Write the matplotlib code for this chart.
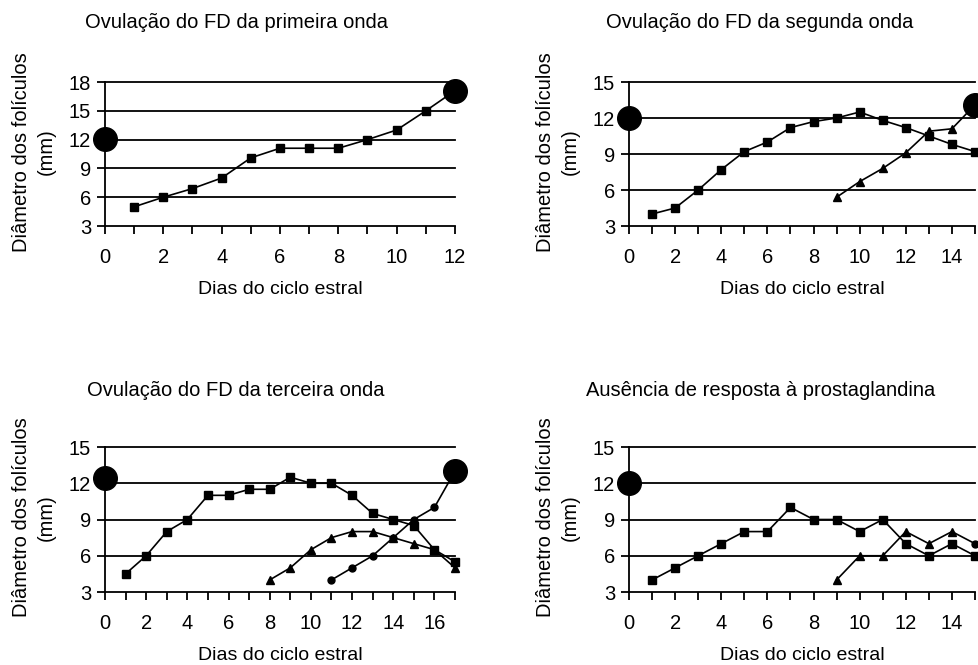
import matplotlib.pyplot as plt
from matplotlib.transforms import Bbox

plt.rcParams['font.family'] = ['Liberation Sans', 'DejaVu Sans']

titles = ["Ovulação do FD da primeira onda", "Ovulação do FD da segunda onda",
          "Ovulação do FD da terceira onda", "Ausência de resposta à prostaglandina"]
xlabel = "Dias do ciclo estral"
ylabel = "Diâmetro dos folículos\n(mm)"

# painel 1
p1_sq_x = [1, 2, 3, 4, 5, 6, 7, 8, 9, 10, 11, 12]
p1_sq_y = [5, 6, 6.9, 8, 10.1, 11.1, 11.1, 11.1, 12, 13, 15, 17.1]
p1_big_x = [0, 12]
p1_big_y = [12.1, 17.1]

# painel 2
p2_sq_x = list(range(1, 16))
p2_sq_y = [4, 4.5, 6, 7.7, 9.2, 10, 11.2, 11.7, 12, 12.5, 11.8, 11.2, 10.5, 9.8, 9.2]
p2_tri_x = [9, 10, 11, 12, 13, 14, 15]
p2_tri_y = [5.4, 6.7, 7.8, 9.1, 10.9, 11.1, 13.1]
p2_big_x = [0, 15]
p2_big_y = [12, 13.1]

# painel 3
p3_sq_x = list(range(1, 18))
p3_sq_y = [4.5, 6, 8, 9, 11, 11, 11.5, 11.5, 12.5, 12, 12, 11, 9.5, 9, 8.5, 6.5, 5.5]
p3_tri_x = list(range(8, 18))
p3_tri_y = [4, 5, 6.5, 7.5, 8, 8, 7.5, 7, 6.5, 5]
p3_dot_x = [11, 12, 13, 14, 15, 16, 17]
p3_dot_y = [4, 5, 6, 7.5, 9, 10, 13]
p3_big_x = [0, 17]
p3_big_y = [12.4, 13]

# painel 4
p4_sq_x = list(range(1, 16))
p4_sq_y = [4, 5, 6, 7, 8, 8, 10, 9, 9, 8, 9, 7, 6, 7, 6]
p4_tri_x = [9, 10, 11, 12, 13, 14, 15]
p4_tri_y = [4, 6, 6, 8, 7, 8, 7]
p4_big_x = [0]
p4_big_y = [12]

W, H = 979, 665
fig = plt.figure(figsize=(W / 100, H / 100), dpi=100)


def make_ax(left, right, top, bottom, xmax, yticks, title, title_x, title_y):
    ax = fig.add_axes([left / W, 1 - bottom / H, (right - left) / W, (bottom - top) / H])
    ax.set_xlim(0, xmax)
    ax.set_ylim(yticks[0], yticks[-1])
    ax.set_yticks(yticks)
    ax.set_xticks(range(0, xmax + 1, 2))
    ax.set_xticks(range(0, xmax + 1), minor=True)
    for y in yticks:
        ax.axhline(y, color='black', lw=1.3, zorder=1, clip_on=False)
    for s in ['top', 'right', 'bottom']:
        ax.spines[s].set_visible(False)
    ax.spines['left'].set_linewidth(1.3)
    ax.tick_params(axis='both', which='both', direction='out', width=1.3, length=6,
                   labelsize=14.5, color='black')
    ax.tick_params(axis='y', pad=4)
    ax.tick_params(axis='x', pad=10)
    ax.set_xlabel(xlabel, fontsize=14, labelpad=10)
    fig.text(title_x / W, 1 - title_y / H, title, fontsize=14.5, ha='center', va='center')
    # rotulo do eixo y, cortado no topo como no original
    cy = (top + bottom) / 2 - 2
    clip = Bbox([[0, 0], [W, H - (top - 29)]])
    t = fig.text((left - 71) / W, 1 - cy / H, ylabel, fontsize=14.5, rotation=90,
                 ha='center', va='center', multialignment='center', linespacing=1.35)
    t.set_clip_box(clip)
    t.set_clip_on(True)
    return ax


def series(ax, x, y, marker, ms, markevery=None):
    ax.plot(x, y, color='black', lw=1.2, marker=marker, ms=ms, markevery=markevery,
            zorder=3, clip_on=False)


def big(ax, x, y):
    ax.plot(x, y, 'o', color='black', ms=17, zorder=4, clip_on=False, ls='none')


ax1 = make_ax(105, 455, 82, 226, 12, [3, 6, 9, 12, 15, 18], titles[0], 237, 23)
series(ax1, p1_sq_x, p1_sq_y, 's', 6)
big(ax1, p1_big_x, p1_big_y)

ax2 = make_ax(629, 975, 82, 226, 15, [3, 6, 9, 12, 15], titles[1], 760, 23)
series(ax2, p2_sq_x, p2_sq_y, 's', 6)
series(ax2, p2_tri_x, p2_tri_y, '^', 6, markevery=slice(0, -1))
big(ax2, p2_big_x, p2_big_y)

ax3 = make_ax(105, 455, 447, 592, 17, [3, 6, 9, 12, 15], titles[2], 236, 390)
series(ax3, p3_sq_x, p3_sq_y, 's', 6)
series(ax3, p3_tri_x, p3_tri_y, '^', 6)
series(ax3, p3_dot_x, p3_dot_y, 'o', 5)
big(ax3, p3_big_x, p3_big_y)

ax4 = make_ax(629, 975, 447, 592, 15, [3, 6, 9, 12, 15], titles[3], 761, 390)
series(ax4, p4_sq_x, p4_sq_y, 's', 6)
series(ax4, p4_tri_x, p4_tri_y, '^', 6, markevery=slice(0, -1))
ax4.plot(p4_tri_x[-1:], p4_tri_y[-1:], 'o', color='black', ms=5, zorder=3, clip_on=False)
big(ax4, p4_big_x, p4_big_y)

fig.savefig('out.png', dpi=100)
